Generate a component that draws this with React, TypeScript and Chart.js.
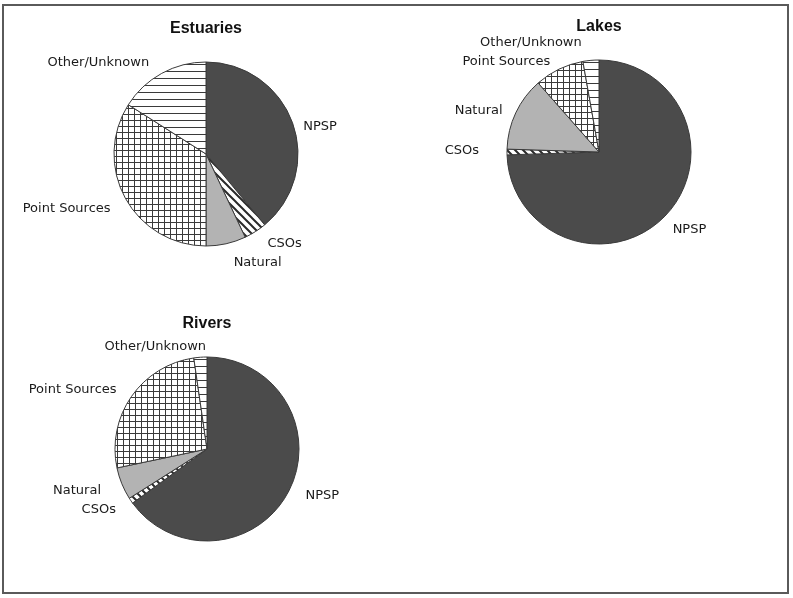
import React, { useEffect, useRef } from "react";
import { Chart, registerables } from "chart.js";

Chart.register(...registerables);

// ---- data ----
const categories = ["NPSP", "CSOs", "Natural", "Point Sources", "Other/Unknown"];
const estuariesValues = [39, 4, 7, 34, 16];
const lakesValues = [74.5, 1, 13, 8.7, 2.8];
const riversValues = [65, 1, 5.7, 26, 2.3];
const chartTitles = ["Estuaries", "Lakes", "Rivers"];

// ---- layout / style (not data) ----
const CANVAS_W = 420;
const CANVAS_H = 320;
const PIE_SIZE = 185;
const pieCenters = [
  { cx: 206, cy: 154 },
  { cx: 599, cy: 152 },
  { cx: 206.5, cy: 448.5 },
];
// small per-label nudges (px) applied after outside-end placement
const labelNudges = [
  [[6, 8], [17, 1], [25, 7], [-15, 4], [-36, 0]],
  [[8, 5], [-22, -1], [-10, 3], [-31, 4], [-55, -5]],
  [[13, -1], [-13, 2], [-17, 2], [-18, 0], [-41, 2]],
];

function makePattern(kind: string): CanvasPattern | string {
  const c = document.createElement("canvas");
  const s = kind === "diag" ? 8 : kind === "horiz" ? 7 : 6;
  c.width = s;
  c.height = s;
  const g = c.getContext("2d")!;
  g.fillStyle = "#ffffff";
  g.fillRect(0, 0, s, s);
  g.strokeStyle = "#2a2a2a";
  if (kind === "grid") {
    g.strokeStyle = "#3a3a3a";
    g.lineWidth = 1;
    g.beginPath();
    g.moveTo(0, 0.5);
    g.lineTo(s, 0.5);
    g.moveTo(0.5, 0);
    g.lineTo(0.5, s);
    g.stroke();
  } else if (kind === "horiz") {
    g.strokeStyle = "#3a3a3a";
    g.lineWidth = 1;
    g.beginPath();
    g.moveTo(0, 0.5);
    g.lineTo(s, 0.5);
    g.stroke();
  } else if (kind === "diag") {
    g.lineWidth = 2;
    g.beginPath();
    g.moveTo(-1, -1);
    g.lineTo(s + 1, s + 1);
    g.moveTo(-1, s - 1);
    g.lineTo(1, s + 1);
    g.moveTo(s - 1, -1);
    g.lineTo(s + 1, 1);
    g.stroke();
  }
  const p = g.createPattern(c, "repeat");
  return p || "#fff";
}

const PieChart: React.FC<{ index: number; values: number[] }> = ({ index, values }) => {
  const ref = useRef<HTMLCanvasElement | null>(null);
  useEffect(() => {
    if (!ref.current) return;
    const colors = [
      "#4b4b4b",
      makePattern("diag"),
      "#b3b3b3",
      makePattern("grid"),
      makePattern("horiz"),
    ];
    const padX = (CANVAS_W - PIE_SIZE) / 2;
    const padY = (CANVAS_H - PIE_SIZE) / 2;
    const nudges = labelNudges[index];
    const title = chartTitles[index];
    const labelPlugin = {
      id: "pieLabels",
      afterDraw(chart: any) {
        const ctx: CanvasRenderingContext2D = chart.ctx;
        const meta = chart.getDatasetMeta(0);
        ctx.save();
        ctx.fillStyle = "#1a1a1a";
        ctx.textAlign = "center";
        ctx.textBaseline = "middle";
        let cx = 0, cy = 0, r = 0;
        meta.data.forEach((arc: any, i: number) => {
          const { x, y, startAngle, endAngle, outerRadius } = arc.getProps(
            ["x", "y", "startAngle", "endAngle", "outerRadius"],
            true
          );
          cx = x; cy = y; r = outerRadius;
          const a = (startAngle + endAngle) / 2;
          const R = outerRadius + 6;
          ctx.font = "13px 'DejaVu Sans'";
          const text = chart.data.labels[i];
          const w = ctx.measureText(text).width;
          const h = 13;
          const lx = x + R * Math.cos(a) + (w / 2) * Math.cos(a) + nudges[i][0];
          const ly = y + R * Math.sin(a) + (h / 2) * Math.sin(a) + nudges[i][1];
          ctx.fillText(text, lx, ly);
        });
        ctx.font = "bold 16px 'Liberation Sans'";
        ctx.fillStyle = "#111";
        ctx.fillText(title, cx, cy - r - 33);
        ctx.restore();
      },
    };
    const chart = new Chart(ref.current, {
      type: "pie",
      data: {
        labels: categories,
        datasets: [
          {
            data: values,
            backgroundColor: colors as any,
            borderColor: "#3a3a3a",
            borderWidth: 1,
          },
        ],
      },
      options: {
        responsive: false,
        animation: false,
        events: [],
        layout: { padding: { left: padX, right: padX, top: padY, bottom: padY } },
        plugins: {
          legend: { display: false },
          tooltip: { enabled: false },
          title: { display: false },
        },
      },
      plugins: [labelPlugin],
    });
    return () => chart.destroy();
  }, [index, values]);
  const { cx, cy } = pieCenters[index];
  return (
    <canvas
      ref={ref}
      width={CANVAS_W}
      height={CANVAS_H}
      style={{
        position: "absolute",
        left: cx - CANVAS_W / 2,
        top: cy - CANVAS_H / 2,
        width: CANVAS_W,
        height: CANVAS_H,
      }}
    />
  );
};

export default function App() {
  return (
    <div
      style={{
        position: "absolute",
        left: 0,
        top: 0,
        width: 793,
        height: 598,
        overflow: "hidden",
        background: "#ffffff",
      }}
    >
      <div
        style={{
          position: "absolute",
          left: 2,
          top: 4,
          width: 783,
          height: 586,
          border: "2px solid #5a5a5a",
        }}
      />
      <PieChart index={0} values={estuariesValues} />
      <PieChart index={1} values={lakesValues} />
      <PieChart index={2} values={riversValues} />
    </div>
  );
}
